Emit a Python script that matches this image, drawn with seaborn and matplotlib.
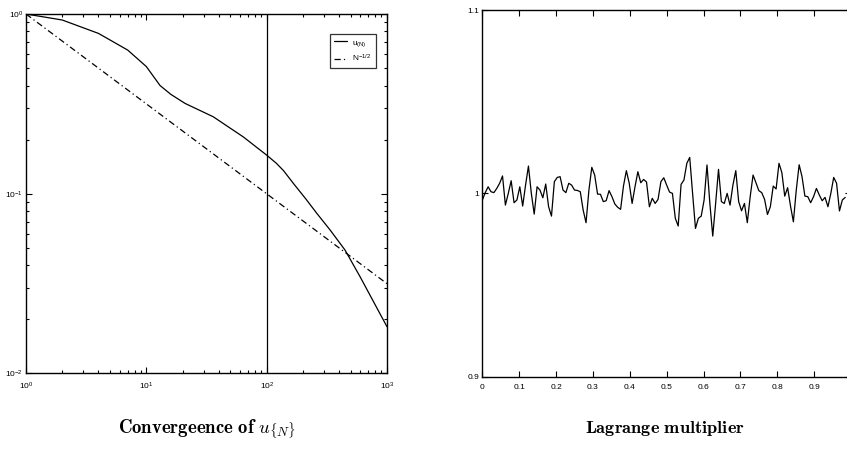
import numpy as np
import pandas as pd
import matplotlib
matplotlib.use("Agg")
import matplotlib.pyplot as plt
import seaborn as sns
from matplotlib.ticker import LogLocator, FixedLocator, NullFormatter

# --- data ---
# convergence of u_{N} (log-log)
conv_n = [1, 2, 4, 7, 10, 13, 16, 21, 36, 64, 100, 120, 138, 167, 212, 261, 337, 448, 598, 1000]
conv_u = [1.0, 0.926, 0.78, 0.63, 0.51, 0.40, 0.357, 0.318, 0.268, 0.207,
          0.164, 0.148, 0.1345, 0.114, 0.0934, 0.0778, 0.0628, 0.0486, 0.0345, 0.0182]
ref_n = [1, 1000]
ref_v = [1.0, 0.0316]   # N^-1/2
cut_n = 100

# Lagrange multiplier samples, step 1/128
lag_vals = [
    0.9964, 1.0004, 1.0036, 1.0009, 1.0004, 1.0027, 1.0055, 1.0095, 0.9936, 1.0000,
    1.0069, 0.9949, 0.9964, 1.0036, 0.9931, 1.0045, 1.0149, 1.0000, 0.9887, 1.0036,
    1.0018, 0.9976, 1.0051, 0.9927, 0.9876, 1.0064, 1.0087, 1.0091, 1.0018, 1.0004,
    1.0055, 1.0045, 1.0018, 1.0016, 1.0009, 0.9909, 0.9840, 1.0018, 1.0142, 1.0100,
    0.9996, 0.9995, 0.9955, 0.9960, 1.0015, 0.9982, 0.9942, 0.9924, 0.9913, 1.0040,
    1.0124, 1.0055, 0.9945, 1.0036, 1.0118, 1.0058, 1.0076, 1.0062, 0.9927, 0.9973,
    0.9945, 0.9967, 1.0064, 1.0085, 1.0045, 1.0007, 1.0000, 0.9864, 0.9822, 1.0049,
    1.0073, 1.0164, 1.0196, 1.0000, 0.9809, 0.9864, 0.9876, 0.9964, 1.0155, 0.9945,
    0.9767, 0.9945, 1.0131, 0.9955, 0.9945, 1.0000, 0.9936, 1.0045, 1.0124, 0.9955,
    0.9905, 0.9945, 0.9840, 0.9982, 1.0100, 1.0058, 1.0015, 1.0004, 0.9967, 0.9885,
    0.9927, 1.0040, 1.0024, 1.0164, 1.0113, 0.9985, 1.0031, 0.9931, 0.9845, 1.0018,
    1.0156, 1.0091, 0.9985, 0.9982, 0.9949, 0.9982, 1.0027, 0.9991, 0.9960, 0.9978,
    0.9927, 1.0000, 1.0087, 1.0055, 0.9904, 0.9964, 0.9978,
]
lag_t = np.arange(len(lag_vals)) / 128.0

sns.set_style("ticks")
plt.rcParams["font.family"] = ["Liberation Sans", "DejaVu Sans"]
plt.rcParams["mathtext.fontset"] = "cm"
plt.rcParams["xtick.direction"] = "in"
plt.rcParams["ytick.direction"] = "in"
plt.rcParams["text.color"] = "black"
plt.rcParams["xtick.color"] = "black"
plt.rcParams["ytick.color"] = "black"
plt.rcParams["xtick.labelcolor"] = "black"
plt.rcParams["ytick.labelcolor"] = "black"

fig = plt.figure(figsize=(8.47, 4.62), dpi=100)
ax1 = fig.add_axes([0.0307, 0.1916, 0.4262, 0.7781])
ax2 = fig.add_axes([0.5695, 0.1846, 0.4352, 0.7937])

# left panel
df_conv = pd.DataFrame({"N": conv_n, "u": conv_u})
df_ref = pd.DataFrame({"N": ref_n, "v": ref_v})
sns.lineplot(data=df_conv, x="N", y="u", ax=ax1, color="black", lw=0.9,
             label=r"$\mathdefault{u_{(N)}}$")
sns.lineplot(data=df_ref, x="N", y="v", ax=ax1, color="black", lw=0.9,
             linestyle=(0, (5, 2.5, 1, 2.5)), label=r"$\mathdefault{N^{-1/2}}$")
ax1.axvline(cut_n, color="black", lw=0.9)
ax1.set_xscale("log")
ax1.set_yscale("log")
ax1.set_xlim(1, 1000)
ax1.set_ylim(0.01, 1)
ax1.set_xlabel("")
ax1.set_ylabel("")
ax1.xaxis.set_major_locator(LogLocator(base=10, numticks=10))
ax1.yaxis.set_major_locator(LogLocator(base=10, numticks=10))
ax1.xaxis.set_minor_locator(LogLocator(base=10, subs=np.arange(2, 10), numticks=20))
ax1.yaxis.set_minor_locator(LogLocator(base=10, subs=np.arange(2, 10), numticks=20))
ax1.xaxis.set_minor_formatter(NullFormatter())
ax1.yaxis.set_minor_formatter(NullFormatter())
ax1.tick_params(which="both", top=True, right=True, labelsize=6, width=0.8)
ax1.tick_params(axis="x", pad=5)
ax1.tick_params(axis="y", pad=2)
ax1.tick_params(which="major", length=4)
ax1.tick_params(which="minor", length=2.5)
leg = ax1.legend(loc="upper right", bbox_to_anchor=(0.98, 0.955), fontsize=6,
                 handlelength=1.6, handletextpad=0.6, frameon=True, fancybox=False,
                 borderpad=0.5, labelspacing=0.5)
leg.get_frame().set_edgecolor("black")
leg.get_frame().set_linewidth(0.9)

# right panel
df_lag = pd.DataFrame({"t": lag_t, "lam": lag_vals})
sns.lineplot(data=df_lag, x="t", y="lam", ax=ax2, color="black", lw=0.9)
ax2.set_xlim(0, 1)
ax2.set_ylim(0.9, 1.1)
ax2.set_xlabel("")
ax2.set_ylabel("")
ax2.xaxis.set_major_locator(FixedLocator(np.arange(0, 1.0, 0.1)))
ax2.set_xticklabels(["0", "0.1", "0.2", "0.3", "0.4", "0.5", "0.6", "0.7", "0.8", "0.9"])
ax2.yaxis.set_major_locator(FixedLocator([0.9, 1.0, 1.1]))
ax2.set_yticklabels(["0.9", "1", "1.1"])
ax2.tick_params(which="both", top=True, right=True, labelsize=6, width=0.8, length=4)
ax2.tick_params(axis="x", pad=5)
ax2.tick_params(axis="y", pad=2)

for ax in (ax1, ax2):
    for s in ax.spines.values():
        s.set_linewidth(1.0)
        s.set_color("black")

fig.text(0.2435, 0.072, r"$\mathbf{Convergeence\ of}\ u_{\{N\}}$", ha="center",
         va="center", fontsize=13.5, color="black")
fig.text(0.785, 0.072, r"$\mathbf{Lagrange\ multiplier}$", ha="center",
         va="center", fontsize=13.2, color="black")

fig.savefig("out.png", dpi=100)
